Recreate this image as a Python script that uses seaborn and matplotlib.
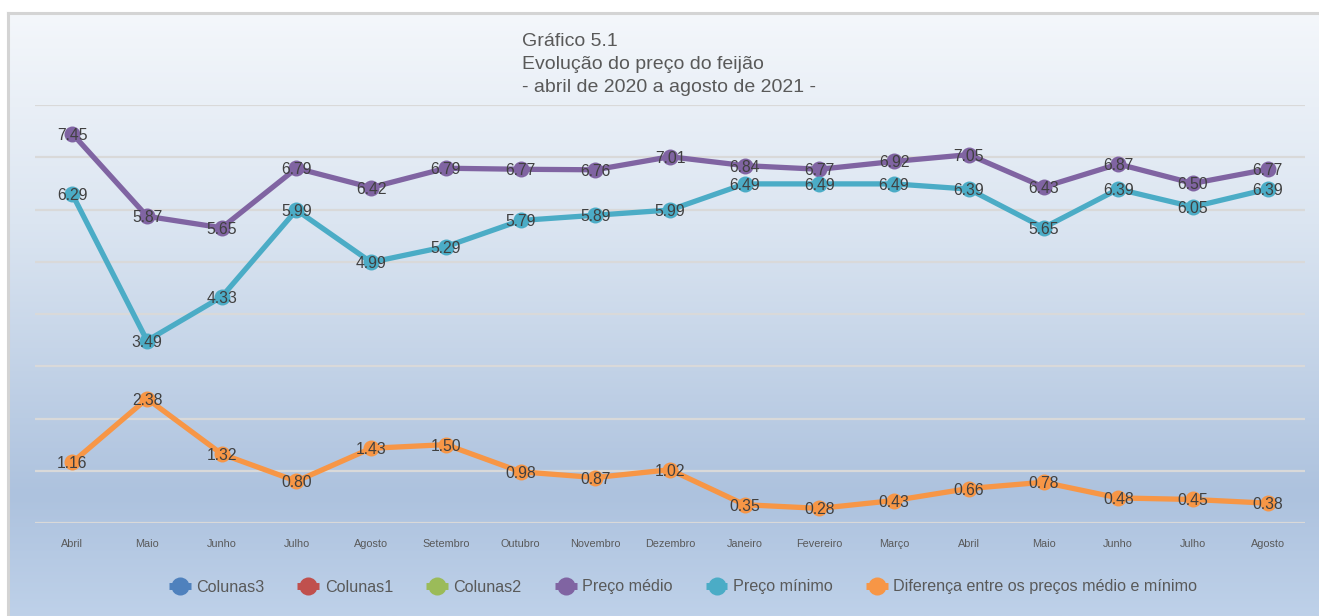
import numpy as np
import pandas as pd
import matplotlib
matplotlib.use("Agg")
import matplotlib.pyplot as plt
from matplotlib.lines import Line2D
from matplotlib.colors import LinearSegmentedColormap
import seaborn as sns

months = ["Abril", "Maio", "Junho", "Julho", "Agosto", "Setembro", "Outubro",
          "Novembro", "Dezembro", "Janeiro", "Fevereiro", "Março", "Abril",
          "Maio", "Junho", "Julho", "Agosto"]
preco_medio = [7.45, 5.87, 5.65, 6.79, 6.42, 6.79, 6.77, 6.76, 7.01, 6.84,
               6.77, 6.92, 7.05, 6.43, 6.87, 6.50, 6.77]
preco_minimo = [6.29, 3.49, 4.33, 5.99, 4.99, 5.29, 5.79, 5.89, 5.99, 6.49,
                6.49, 6.49, 6.39, 5.65, 6.39, 6.05, 6.39]
diferenca = [1.16, 2.38, 1.32, 0.80, 1.43, 1.50, 0.98, 0.87, 1.02, 0.35,
             0.28, 0.43, 0.66, 0.78, 0.48, 0.45, 0.38]
series_names = ["Preço médio", "Preço mínimo", "Diferença entre os preços médio e mínimo"]
empty_names = ["Colunas3", "Colunas1", "Colunas2"]
title_lines = ["Gráfico 5.1", "Evolução do preço do feijão", "- abril de 2020 a agosto de 2021 -"]

colors = {"Colunas3": "#4f81bd", "Colunas1": "#c0504d", "Colunas2": "#9bbb59",
          "Preço médio": "#8064a2", "Preço mínimo": "#4bacc6",
          "Diferença entre os preços médio e mínimo": "#f79646"}

sns.set_theme(style="white")
plt.rcParams["font.family"] = ["Liberation Sans", "DejaVu Sans"]

W, H = 1319, 616
fig = plt.figure(figsize=(W / 100, H / 100), dpi=100)
fig.patch.set_facecolor("white")

# background gradient frame
bg = fig.add_axes([8 / W, 0, 1 - 8 / W, 1 - 13 / H], zorder=0)
cmap = LinearSegmentedColormap.from_list(
    "bg", [(0.0, "#f4f7fb"), (0.35, "#dbe5f1"), (0.80, "#adc2de"), (1.0, "#bed1e9")])
grad = np.linspace(0, 1, 256).reshape(-1, 1)
bg.imshow(grad, aspect="auto", cmap=cmap, extent=[0, 1, 0, 1], origin="upper")
bg.set_xlim(0, 1); bg.set_ylim(0, 1)
bg.set_xticks([]); bg.set_yticks([])
for s in ["top", "left"]:
    bg.spines[s].set_color("#d4d4d4"); bg.spines[s].set_linewidth(2.2)
for s in ["right", "bottom"]:
    bg.spines[s].set_visible(False)

ax = fig.add_axes([35 / W, 1 - 523 / H, (1305 - 35) / W, (523 - 105) / H], zorder=1)
ax.patch.set_alpha(0)

x = np.arange(len(months))
df = pd.DataFrame({
    "x": np.tile(x, 3),
    "valor": preco_medio + preco_minimo + diferenca,
    "serie": np.repeat(series_names, len(months)),
})
sns.lineplot(data=df, x="x", y="valor", hue="serie", palette=colors,
             hue_order=series_names, marker="o", markersize=11.5,
             markeredgewidth=0, linewidth=3.8, ax=ax, legend=False, zorder=3)

for name, vals in zip(series_names, [preco_medio, preco_minimo, diferenca]):
    for xi, v in zip(x, vals):
        ax.text(xi, v, f"{v:.2f}", ha="center", va="center_baseline", fontsize=11.3,
                color="#404040", zorder=5)

ax.set_xlim(-0.5, len(months) - 0.5)
ax.set_ylim(0, 8)
ax.set_yticks(np.arange(0, 9, 1))
ax.yaxis.grid(True, color="#d9d9d9", linewidth=1.6)
ax.set_axisbelow(True)
ax.set_yticklabels([])
ax.tick_params(axis="y", length=0)
ax.set_xticks(x)
ax.set_xticklabels(months, fontsize=7.8, color="#595959")
ax.tick_params(axis="x", length=0, pad=11.5)
ax.set_xlabel(""); ax.set_ylabel("")
for s in ax.spines.values():
    s.set_visible(False)

for i, line in enumerate(title_lines):
    fig.text(522 / W, 1 - (42 + 22.5 * i) / H, line, ha="left", va="center",
             fontsize=14, color="#595959")

handles = []
for name in empty_names + series_names:
    handles.append(Line2D([0], [0], color=colors[name], linewidth=5,
                          solid_capstyle="butt",
                          marker="o", markersize=13, markeredgewidth=0))
leg = fig.legend(handles, empty_names + series_names, loc="center",
                 bbox_to_anchor=(683 / W, 1 - 587 / H), ncol=6, frameon=False,
                 fontsize=11.6, handlelength=1.35, handletextpad=0.35,
                 columnspacing=2.05)
for t in leg.get_texts():
    t.set_color("#595959")

fig.savefig("out.png", dpi=100)
